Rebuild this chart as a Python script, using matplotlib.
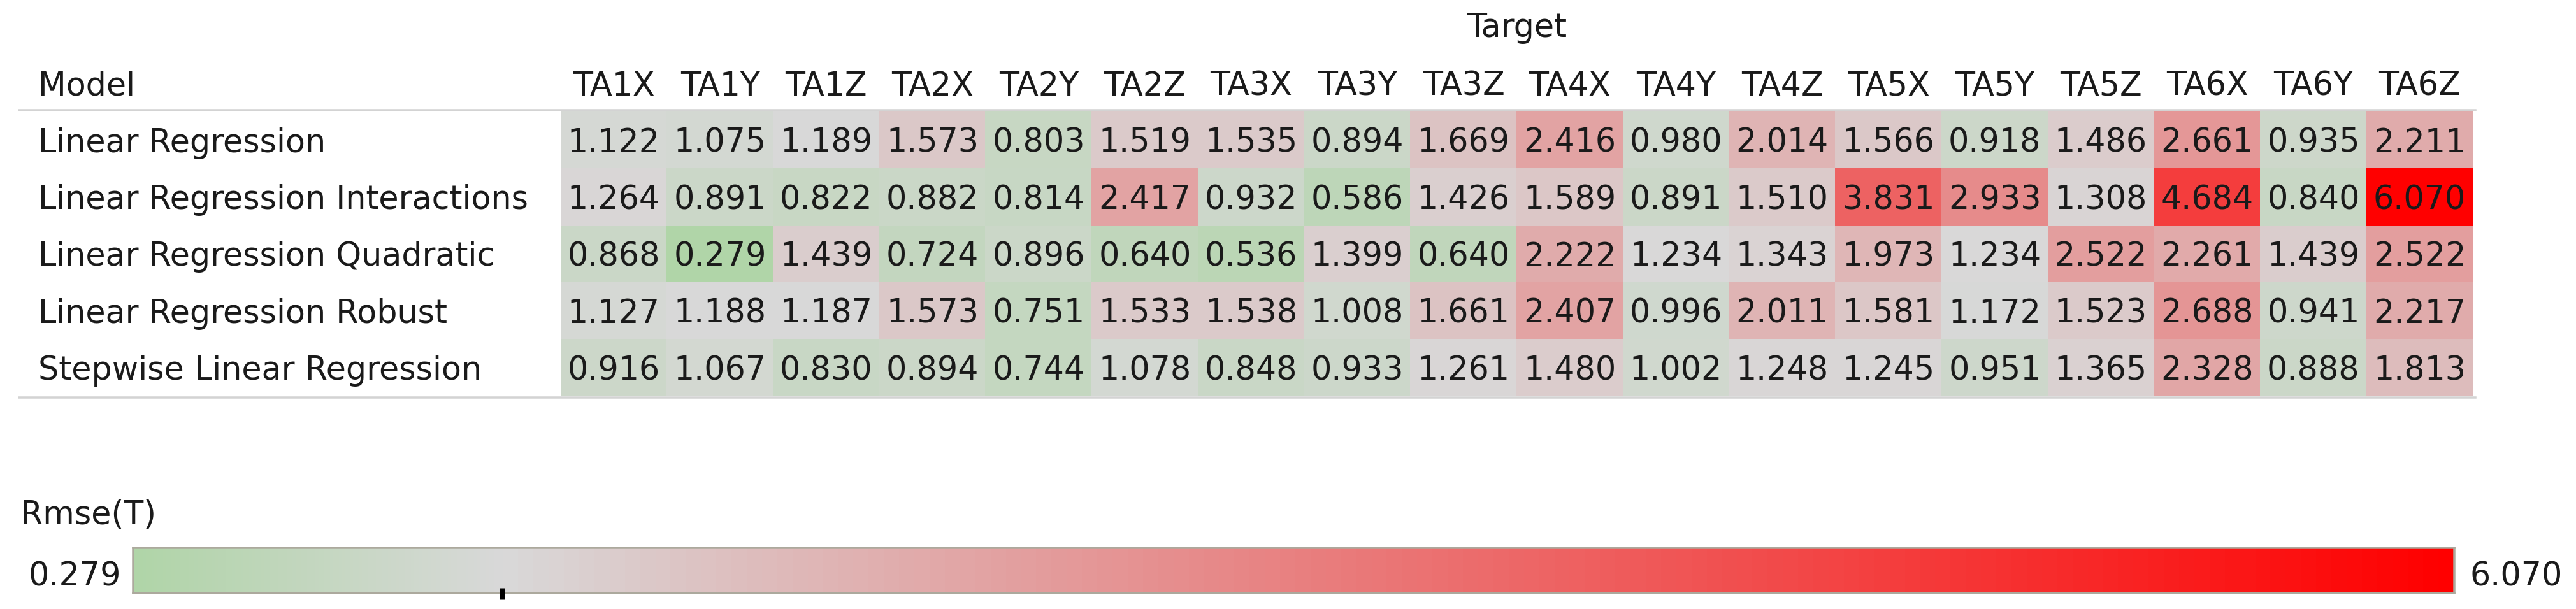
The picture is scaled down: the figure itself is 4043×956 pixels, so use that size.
import matplotlib
matplotlib.use("Agg")
import matplotlib.pyplot as plt
import numpy as np
from matplotlib.colors import LinearSegmentedColormap, TwoSlopeNorm
from matplotlib.lines import Line2D
from matplotlib.transforms import blended_transform_factory

# ---------------- data ----------------
models = [
    "Linear Regression",
    "Linear Regression Interactions",
    "Linear Regression Quadratic",
    "Linear Regression Robust",
    "Stepwise Linear Regression",
]
targets = ["TA1X", "TA1Y", "TA1Z", "TA2X", "TA2Y", "TA2Z", "TA3X", "TA3Y", "TA3Z",
           "TA4X", "TA4Y", "TA4Z", "TA5X", "TA5Y", "TA5Z", "TA6X", "TA6Y", "TA6Z"]

rmse_linear = [1.122, 1.075, 1.189, 1.573, 0.803, 1.519, 1.535, 0.894, 1.669,
               2.416, 0.980, 2.014, 1.566, 0.918, 1.486, 2.661, 0.935, 2.211]
rmse_interactions = [1.264, 0.891, 0.822, 0.882, 0.814, 2.417, 0.932, 0.586, 1.426,
                     1.589, 0.891, 1.510, 3.831, 2.933, 1.308, 4.684, 0.840, 6.070]
rmse_quadratic = [0.868, 0.279, 1.439, 0.724, 0.896, 0.640, 0.536, 1.399, 0.640,
                  2.222, 1.234, 1.343, 1.973, 1.234, 2.522, 2.261, 1.439, 2.522]
rmse_robust = [1.127, 1.188, 1.187, 1.573, 0.751, 1.533, 1.538, 1.008, 1.661,
               2.407, 0.996, 2.011, 1.581, 1.172, 1.523, 2.688, 0.941, 2.217]
rmse_stepwise = [0.916, 1.067, 0.830, 0.894, 0.744, 1.078, 0.848, 0.933, 1.261,
                 1.480, 1.002, 1.248, 1.245, 0.951, 1.365, 2.328, 0.888, 1.813]

values = np.array([rmse_linear, rmse_interactions, rmse_quadratic,
                   rmse_robust, rmse_stepwise])

legend_title = "Rmse(T)"
column_title = "Target"
row_title = "Model"

# ---------------- style ----------------
W, H, DPI = 4043, 956, 100
FS = 36.5
TXT = "#1a1a1a"
plt.rcParams["font.family"] = ["DejaVu Sans"]

fig = plt.figure(figsize=(W / DPI, H / DPI), dpi=DPI)
fig.patch.set_facecolor("white")


def fx(px):
    return px / W


def fy(py):
    return 1 - py / H


cmap = LinearSegmentedColormap.from_list("rg", ["#b0d5a8", "#d9d9d9", "#ff0000"])
vmin, vmax = values.min(), values.max()
center = 1.2
norm = TwoSlopeNorm(vcenter=center, vmin=vmin, vmax=vmax)

# table region
x0, x1, y0, y1 = 880, 3881, 175, 622
row_h = (y1 - y0) / len(models)
ax = fig.add_axes([fx(x0), fy(y1), fx(x1) - fx(x0), fy(y0) - fy(y1)])
ax.imshow(values, cmap=cmap, norm=norm, aspect="auto", interpolation="nearest")
ax.set_axis_off()

cap_off = 19 / row_h  # baseline offset from row center (data units)
for i in range(len(models)):
    for j in range(len(targets)):
        ax.text(j, i + cap_off, f"{values[i, j]:.3f}", ha="center", va="baseline",
                fontsize=FS, color=TXT)

tr = blended_transform_factory(fig.transFigure, ax.transData)
for i, m in enumerate(models):
    ax.text(fx(60), i + cap_off, m, transform=tr, ha="left", va="baseline",
            fontsize=FS, color=TXT, clip_on=False)

hdr_y = -0.5 - (y0 - 150) / row_h
for j, t in enumerate(targets):
    ax.text(j, hdr_y, t, ha="center", va="baseline", fontsize=FS, color=TXT,
            clip_on=False)
ax.text(fx(60), hdr_y, row_title, transform=tr, ha="left", va="baseline",
        fontsize=FS, color=TXT, clip_on=False)
ax.text((len(targets) - 1) / 2, -0.5 - (y0 - 58) / row_h, column_title,
        ha="center", va="baseline", fontsize=FS, color=TXT, clip_on=False)

# separator lines
for yy in (173, 624):
    fig.add_artist(Line2D([fx(30), fx(3885)], [fy(yy), fy(yy)],
                          transform=fig.transFigure, color="#d3d3d3",
                          lw=3.5 * 72 / DPI))

# ---------------- legend ----------------
lx0, lx1, ly0, ly1 = 209, 3852, 860, 931
cax = fig.add_axes([fx(lx0), fy(ly1), fx(lx1) - fx(lx0), fy(ly0) - fy(ly1)])
grad = np.linspace(vmin, vmax, 1200)[None, :]
cax.imshow(grad, cmap=cmap, norm=norm, aspect="auto", extent=[vmin, vmax, 0, 1],
           interpolation="bilinear")
cax.set_xlim(vmin, vmax)
cax.set_ylim(0, 1)
cax.set_xticks([])
cax.set_yticks([])
for s in cax.spines.values():
    s.set_color("#aca99d")
    s.set_linewidth(3.5 * 72 / DPI)
lh = ly1 - ly0
cax.plot([center, center], [(ly1 - 923) / lh, (ly1 - 941) / lh], color="black",
         lw=7 * 72 / DPI, clip_on=False, solid_capstyle="butt", zorder=5)

fig.text(fx(32), fy(823), legend_title, ha="left", va="baseline", fontsize=FS,
         color=TXT)
fig.text(fx(190), fy(920), f"{vmin:.3f}", ha="right", va="baseline", fontsize=FS,
         color=TXT)
fig.text(fx(3877), fy(920), f"{vmax:.3f}", ha="left", va="baseline", fontsize=FS,
         color=TXT)

fig.savefig("out.png", dpi=DPI, facecolor="white")
